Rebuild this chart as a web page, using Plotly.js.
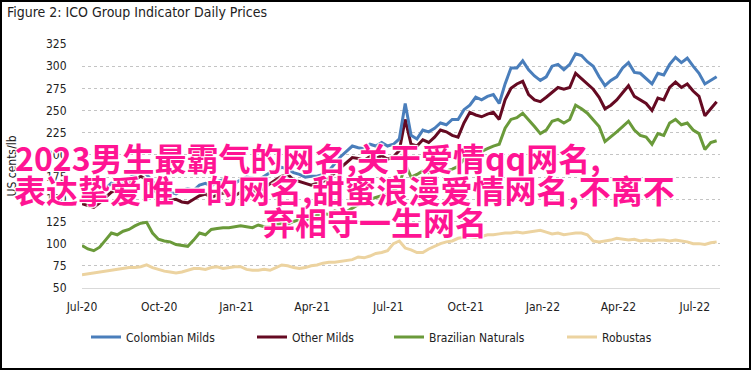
<!DOCTYPE html>
<html>
<head>
<meta charset="utf-8">
<script src="https://cdn.plot.ly/plotly-3.0.1.min.js"></script>
<style>
  html, body { margin: 0; padding: 0; background: #ffffff; }
  #frame { width: 751px; height: 370px; box-sizing: border-box; border: 2px solid #000; overflow: hidden; background: #fff; }
  #chart { width: 747px; height: 366px; }
</style>
</head>
<body>
<div id="frame"><div id="chart"></div></div>
<script>
// ---------------- DATA (weekly readings, first observation 2020-07-01) ----------------
const firstDate = '2020-07-01';
const stepDays = 7;

const seriesNames = ['Colombian Milds', 'Other Milds', 'Brazilian Naturals', 'Robustas'];

const colombianMilds = [
  158, 155, 152, 156, 162, 168, 166, 171, 174, 178,
  182, 178, 170, 164, 160, 158, 156, 160, 162, 160,
  166, 168, 165, 170, 172, 170, 168, 172, 175, 174,
  172, 176, 180, 183, 186, 184, 180, 178, 175, 176,
  176, 178, 182, 190, 198, 204, 210, 208, 207, 212,
  210, 214, 210, 212, 218, 258, 222, 218, 228, 226,
  230, 236, 234, 240, 240, 251, 256, 265, 262, 266,
  268, 258, 280, 298, 298, 306, 296, 289, 284, 288,
  300, 302, 296, 302, 314, 312, 305, 300, 288, 278,
  284, 288, 298, 304, 293, 292, 286, 280, 292, 290,
  302, 310, 304, 309, 300, 292, 280, 284, 288
];

const otherMilds = [
  145, 143, 141, 146, 152, 158, 160, 165, 168, 172,
  176, 172, 162, 156, 152, 149, 150, 147, 146, 150,
  154, 156, 152, 155, 157, 156, 154, 158, 162, 160,
  158, 163, 168, 172, 176, 178, 172, 170, 168, 166,
  168, 170, 174, 180, 186, 191, 197, 196, 194, 198,
  196, 199, 195, 198, 205, 240, 212, 210, 217, 214,
  220, 228, 226, 222, 220, 236, 248, 245, 243, 246,
  248, 240, 262, 275, 280, 283, 268, 262, 260, 265,
  270, 276, 274, 276, 292, 286, 280, 274, 265, 252,
  256, 262, 270, 278, 266, 262, 258, 250, 264, 262,
  276, 282, 276, 280, 272, 266, 244, 252, 260
];

const brazilianNaturals = [
  98, 94, 92, 96, 104, 112, 110, 114, 116, 120,
  123, 124, 112, 105, 103, 102, 99, 98, 97, 104,
  112, 110, 116, 117, 118, 118, 119, 120, 119, 118,
  121, 119, 119, 121, 123, 122, 125, 127, 126, 130,
  132, 134, 133, 137, 135, 136, 140, 144, 146, 150,
  152, 154, 156, 160, 165, 190, 175, 178, 182, 180,
  183, 185, 182, 184, 187, 195, 202, 205, 204, 207,
  210, 212, 230, 240, 242, 247, 240, 232, 224, 228,
  238, 240, 236, 240, 256, 252, 247, 240, 232, 215,
  220, 226, 232, 238, 228, 222, 220, 212, 224, 222,
  236, 240, 234, 236, 228, 224, 206, 214, 216
];

const robustas = [
  65, 66, 67, 68, 69, 70, 71, 72, 73, 73,
  74, 76, 73, 71, 69, 68, 67, 68, 70, 72,
  72, 71, 73, 74, 72, 73, 74, 74, 71, 70,
  70, 71, 70, 73, 76, 75, 73, 72, 73, 75,
  76, 78, 79, 79, 80, 81, 82, 85, 84, 86,
  89, 90, 92, 100, 103, 95, 93, 90, 90, 94,
  97, 100, 102, 103, 106, 107, 108, 107, 108, 110,
  110, 111, 112, 112, 113, 112, 113, 114, 115, 113,
  111, 112, 110, 111, 112, 112, 110, 103, 102, 103,
  104, 106, 105, 104, 105, 103, 104, 103, 104, 104,
  103, 104, 103, 102, 100, 100, 99, 101, 102
];

const yTickValues = [50, 75, 100, 125, 150, 175, 200, 225, 250, 275, 300, 325];
const chartTitle = 'Figure 2: ICO Group Indicator Daily Prices';
const yTitle = 'US cents/lb';
const overlayLines = [
  '2023男生最霸气的网名,关于爱情qq网名,',
  '表达挚爱唯一的网名,甜蜜浪漫爱情网名,不离不',
  '弃相守一生网名'
];

// ---------------- BUILD ----------------
function buildDates(n) {
  const out = [];
  const t0 = Date.parse(firstDate + 'T00:00:00Z');
  for (let i = 0; i < n; i++) {
    out.push(new Date(t0 + i * stepDays * 86400000).toISOString().slice(0, 10));
  }
  return out;
}
const dates = buildDates(colombianMilds.length);

const W = 747, H = 366;
const M = { l: 80, r: 29, t: 42, b: 80 };
const PW = W - M.l - M.r, PH = H - M.t - M.b;
const px = x => (x - M.l) / PW;          // inner pixel -> paper x
const py = y => (H - M.b - y) / PH;      // inner pixel -> paper y

const FONT = '"Liberation Sans Narrow", "DejaVu Sans Condensed", "Roboto Condensed", Roboto, sans-serif';
const colors = ['#4a7ebb', '#650a22', '#6a9a3a', '#ecd3a0'];
const allSeries = [colombianMilds, otherMilds, brazilianNaturals, robustas];
const legendIds = ['legend', 'legend2', 'legend3', 'legend4'];
const legendX = [84, 250, 387, 560];

const traces = allSeries.map((vals, k) => ({
  type: 'scatter',
  mode: 'lines',
  name: seriesNames[k],
  x: dates,
  y: vals,
  line: { color: colors[k], width: 3 },
  legend: legendIds[k],
  hoverinfo: 'x+y+name'
}));
const order = [3, 2, 1, 0];
const data = order.map(i => traces[i]);

const layout = {
  width: W, height: H,
  margin: M,
  paper_bgcolor: '#ffffff', plot_bgcolor: '#ffffff',
  font: { family: FONT, size: 12, color: '#222' },
  title: {
    text: chartTitle,
    xref: 'container', x: 5 / W, xanchor: 'left',
    yref: 'container', y: 1 - 10 / H, yanchor: 'middle',
    font: { family: FONT, size: 14, color: '#222' }
  },
  xaxis: {
    type: 'date',
    range: ['2020-07-01', '2022-07-31'],
    tick0: '2020-07-01', dtick: 'M3', tickformat: '%b-%y',
    showgrid: false, zeroline: false,
    showline: true, linecolor: '#d9d9d9', linewidth: 1,
    ticks: 'outside', ticklen: 8, tickcolor: 'rgba(0,0,0,0)',
    tickfont: { family: FONT, size: 12, color: '#222' }
  },
  yaxis: {
    range: [50, 325],
    tickmode: 'array', tickvals: yTickValues,
    showgrid: true, gridcolor: '#c4c4c4', griddash: 'dot', gridwidth: 1,
    zeroline: false, showline: false,
    ticks: 'outside', ticklen: 12, tickcolor: 'rgba(0,0,0,0)',
    tickfont: { family: FONT, size: 12, color: '#222' },
    title: { text: yTitle, font: { family: FONT, size: 12, color: '#222' }, standoff: 26 }
  },
  showlegend: true,
  annotations: [
    { text: overlayLines[0], x: px(11), y: py(155), xanchor: 'left' },
    { text: overlayLines[1], x: px(10), y: py(187), xanchor: 'left' },
    { text: overlayLines[2], x: px(373), y: py(219), xanchor: 'center' }
  ].map(a => Object.assign(a, {
    xref: 'paper', yref: 'paper', yanchor: 'middle', showarrow: false,
    font: {
      family: '"Noto Sans CJK SC", "Noto Sans", sans-serif', size: 32, color: '#ff1493', weight: 700,
      shadow: '1px 1px 1px #fff, -1px -1px 1px #fff, 1px -1px 1px #fff, -1px 1px 1px #fff'
    }
  }))
};

legendIds.forEach((id, k) => {
  layout[id] = {
    orientation: 'h', x: px(legendX[k]), xanchor: 'left',
    y: py(335), yanchor: 'middle',
    bgcolor: 'rgba(0,0,0,0)', borderwidth: 0,
    font: { family: FONT, size: 12, color: '#222' }
  };
});

Plotly.newPlot('chart', data, layout, { displayModeBar: false, staticPlot: true });
</script>
</body>
</html>
